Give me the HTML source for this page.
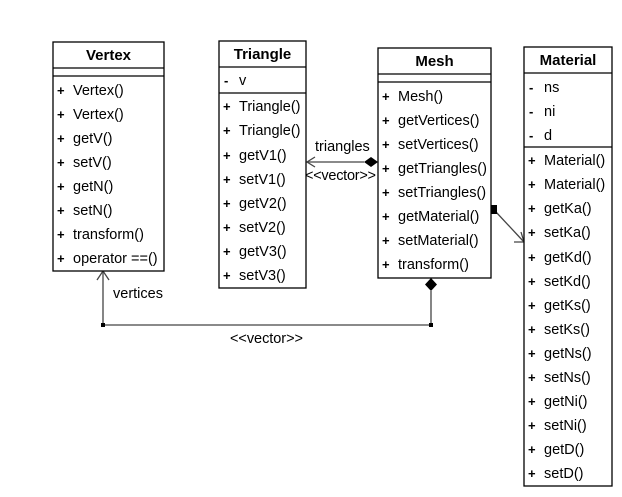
<!DOCTYPE html>
<html><head><meta charset="utf-8"><style>
html,body{margin:0;padding:0;background:#fff;}
svg{display:block;font-family:"Liberation Sans",sans-serif;}
text{font-size:14.5px;fill:#000;}
.b{font-weight:bold;font-size:15px;}
.p{font-weight:bold;font-size:13px;}
rect{fill:#fff;stroke:#000;stroke-width:1.3;}
</style></head><body>
<svg width="622" height="497" viewBox="0 0 622 497">
<g stroke="#444" stroke-width="1.3" fill="none">
<polyline points="431,291 431,325 103,325 103,271"/>
<polyline points="97,280 103,271 109,280"/>
<line x1="364" y1="162" x2="307" y2="162"/>
<polyline points="315,157 307,162 315,167"/>
<line x1="496" y1="212" x2="524" y2="242"/>
<polyline points="514,242 524,242 521,232"/>
</g>
<rect x="101" y="323" width="4" height="4" style="fill:#000;stroke:none"/>
<rect x="429" y="323" width="4" height="4" style="fill:#000;stroke:none"/>
<polygon points="431,278 437,284.5 431,291 425,284.5" fill="#000"/>
<polygon points="378,162 371,167 364,162 371,157" fill="#000"/>
<rect x="488" y="205" width="9" height="9" style="fill:#000;stroke:none"/>
<text x="315" y="151">triangles</text>
<text x="305" y="180" textLength="71">&lt;&lt;vector&gt;&gt;</text>
<text x="113" y="298">vertices</text>
<text x="230" y="343" textLength="73">&lt;&lt;vector&gt;&gt;</text>

<rect x="53" y="42" width="111" height="229"/>
<line x1="53" y1="68" x2="164" y2="68" stroke="#000" stroke-width="1.3"/>
<line x1="53" y1="76" x2="164" y2="76" stroke="#000" stroke-width="1.3"/>
<text x="108.5" y="60" text-anchor="middle" class="b">Vertex</text>
<text x="57" y="95" class="p">+</text><text x="73" y="95">Vertex()</text>
<text x="57" y="119" class="p">+</text><text x="73" y="119">Vertex()</text>
<text x="57" y="143" class="p">+</text><text x="73" y="143">getV()</text>
<text x="57" y="167" class="p">+</text><text x="73" y="167">setV()</text>
<text x="57" y="191" class="p">+</text><text x="73" y="191">getN()</text>
<text x="57" y="215" class="p">+</text><text x="73" y="215">setN()</text>
<text x="57" y="239" class="p">+</text><text x="73" y="239">transform()</text>
<text x="57" y="263" class="p">+</text><text x="73" y="263">operator ==()</text>

<rect x="219" y="41" width="87" height="247"/>
<line x1="219" y1="67" x2="306" y2="67" stroke="#000" stroke-width="1.3"/>
<line x1="219" y1="93" x2="306" y2="93" stroke="#000" stroke-width="1.3"/>
<text x="262.5" y="59" text-anchor="middle" class="b">Triangle</text>
<text x="224" y="85" class="p">-</text><text x="239" y="85">v</text>
<text x="223" y="111" class="p">+</text><text x="239" y="111">Triangle()</text>
<text x="223" y="135" class="p">+</text><text x="239" y="135">Triangle()</text>
<text x="223" y="160" class="p">+</text><text x="239" y="160">getV1()</text>
<text x="223" y="184" class="p">+</text><text x="239" y="184">setV1()</text>
<text x="223" y="208" class="p">+</text><text x="239" y="208">getV2()</text>
<text x="223" y="232" class="p">+</text><text x="239" y="232">setV2()</text>
<text x="223" y="256" class="p">+</text><text x="239" y="256">getV3()</text>
<text x="223" y="280" class="p">+</text><text x="239" y="280">setV3()</text>

<rect x="378" y="48" width="113" height="230"/>
<line x1="378" y1="74" x2="491" y2="74" stroke="#000" stroke-width="1.3"/>
<line x1="378" y1="82" x2="491" y2="82" stroke="#000" stroke-width="1.3"/>
<text x="434.5" y="66" text-anchor="middle" class="b">Mesh</text>
<text x="382" y="101" class="p">+</text><text x="398" y="101">Mesh()</text>
<text x="382" y="125" class="p">+</text><text x="398" y="125">getVertices()</text>
<text x="382" y="149" class="p">+</text><text x="398" y="149">setVertices()</text>
<text x="382" y="173" class="p">+</text><text x="398" y="173">getTriangles()</text>
<text x="382" y="197" class="p">+</text><text x="398" y="197">setTriangles()</text>
<text x="382" y="221" class="p">+</text><text x="398" y="221">getMaterial()</text>
<text x="382" y="245" class="p">+</text><text x="398" y="245">setMaterial()</text>
<text x="382" y="269" class="p">+</text><text x="398" y="269">transform()</text>

<rect x="524" y="47" width="88" height="439"/>
<line x1="524" y1="73" x2="612" y2="73" stroke="#000" stroke-width="1.3"/>
<line x1="524" y1="147" x2="612" y2="147" stroke="#000" stroke-width="1.3"/>
<text x="568" y="65" text-anchor="middle" class="b">Material</text>
<text x="529" y="92" class="p">-</text><text x="544" y="92">ns</text>
<text x="529" y="116" class="p">-</text><text x="544" y="116">ni</text>
<text x="529" y="140" class="p">-</text><text x="544" y="140">d</text>
<text x="528" y="165" class="p">+</text><text x="544" y="165">Material()</text>
<text x="528" y="189" class="p">+</text><text x="544" y="189">Material()</text>
<text x="528" y="213" class="p">+</text><text x="544" y="213">getKa()</text>
<text x="528" y="237" class="p">+</text><text x="544" y="237">setKa()</text>
<text x="528" y="262" class="p">+</text><text x="544" y="262">getKd()</text>
<text x="528" y="286" class="p">+</text><text x="544" y="286">setKd()</text>
<text x="528" y="310" class="p">+</text><text x="544" y="310">getKs()</text>
<text x="528" y="334" class="p">+</text><text x="544" y="334">setKs()</text>
<text x="528" y="358" class="p">+</text><text x="544" y="358">getNs()</text>
<text x="528" y="382" class="p">+</text><text x="544" y="382">setNs()</text>
<text x="528" y="406" class="p">+</text><text x="544" y="406">getNi()</text>
<text x="528" y="430" class="p">+</text><text x="544" y="430">setNi()</text>
<text x="528" y="454" class="p">+</text><text x="544" y="454">getD()</text>
<text x="528" y="478" class="p">+</text><text x="544" y="478">setD()</text>
</svg>
</body></html>
